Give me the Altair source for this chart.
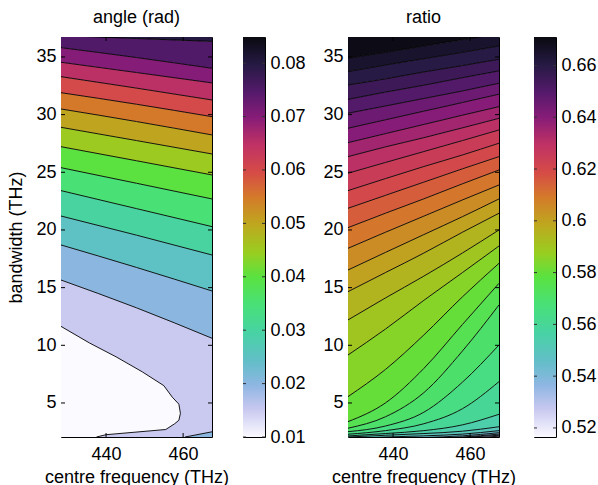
import altair as alt
import pandas as pd

FONT = "Liberation Sans"

# shared axes
FREQ_DOMAIN = [428.3, 467.5]
BW_DOMAIN = [2.05, 36.73]
FREQ_TICKS = [440, 460]
BW_TICKS = [5, 10, 15, 20, 25, 30, 35]

# colour map stops (0 = low end, 1 = high end)
CMAP_POS = [0.0, 0.07, 0.13, 0.19, 0.26, 0.33, 0.40, 0.46, 0.53, 0.60, 0.66, 0.73, 0.80, 0.86, 0.93, 1.0]
CMAP_COL = ["#fbfaff", "#c8c8f0", "#8eb6e2", "#62bec8", "#48d2a4", "#48e078", "#5ae240", "#98ce20",
            "#bea81e", "#d47a2a", "#d64c46", "#c03264", "#861c78", "#561a6c", "#261a44", "#0a0a10"]

# ---- angle (rad) ----
ANGLE_RANGE = [0.01, 0.0849]
ANGLE_TICKS = [0.01, 0.02, 0.03, 0.04, 0.05, 0.06, 0.07, 0.08]
ANGLE_X = [428.3, 447.9, 467.5]
ANGLE_LEVELS = [0.02, 0.025, 0.03, 0.035, 0.04, 0.045, 0.05, 0.055, 0.06, 0.065, 0.07, 0.075, 0.08]
ANGLE_LINES = [
    [15.66, 13.25, 10.61],
    [18.70, 16.75, 14.71],
    [21.21, 19.55, 17.83],
    [23.41, 21.85, 20.29],
    [25.40, 24.05, 22.69],
    [27.22, 26.00, 24.77],
    [28.90, 27.75, 26.59],
    [30.49, 29.40, 28.24],
    [31.90, 30.90, 29.82],
    [33.29, 32.30, 31.27],
    [34.54, 33.65, 32.75],
    [35.81, 34.95, 34.02],
    [36.85, 36.60, 36.35],
]
ANGLE_FLOOR_LEVEL = 0.015
# closed 0.015 contour (bandwidth -> frequency of its right edge)
ANGLE_LOW_BW = [2.05, 2.25, 2.7, 3.2, 3.5, 4.1, 4.9, 5.5, 6.5, 7.7, 9.0, 10.2, 11.64]
ANGLE_LOW_FREQ = [437.5, 440.0, 455.5, 457.8, 458.9, 459.3, 458.9, 457.2, 455.0, 449.4, 442.6, 435.7, 428.3]
ANGLE_LOW_LEVEL = 0.01
# 0.02 contour cutting the lower right corner
ANGLE_CORNER_FREQ = [460.5, 467.5]
ANGLE_CORNER_BW = [2.05, 2.5]
ANGLE_CORNER_LEVEL = 0.02

# ---- ratio ----
RATIO_RANGE = [0.5165, 0.671]
RATIO_TICKS = [0.52, 0.54, 0.56, 0.58, 0.6, 0.62, 0.64, 0.66]
RATIO_X = [428.3, 438.0, 448.0, 458.0, 467.5]
RATIO_LEVELS = [0.53, 0.535, 0.54, 0.545, 0.55, 0.555, 0.56, 0.565, 0.57, 0.575, 0.58, 0.585,
                0.59, 0.595, 0.6, 0.605, 0.61, 0.615, 0.62, 0.625, 0.63, 0.635, 0.64, 0.645,
                0.65, 0.655, 0.66, 0.665, 0.67]
RATIO_LINES = [
    [1.50, 1.60, 1.75, 1.90, 2.12],
    [1.60, 1.70, 1.85, 2.00, 2.20],
    [1.70, 1.80, 1.90, 2.05, 2.30],
    [1.80, 1.90, 2.00, 2.15, 2.42],
    [1.90, 2.05, 2.15, 2.30, 2.60],
    [2.05, 2.20, 2.35, 2.55, 2.94],
    [2.14, 2.35, 2.60, 3.10, 4.02],
    [2.29, 2.60, 3.20, 4.50, 6.85],
    [2.51, 3.00, 4.20, 6.80, 10.03],
    [2.81, 3.80, 5.90, 9.50, 13.50],
    [3.38, 5.00, 8.00, 11.80, 15.38],
    [5.55, 7.90, 10.90, 14.20, 17.11],
    [9.16, 11.40, 13.90, 16.30, 18.61],
    [12.20, 14.10, 16.00, 18.00, 20.00],
    [14.65, 16.30, 18.00, 19.80, 21.45],
    [16.53, 18.05, 19.60, 21.15, 22.69],
    [18.41, 19.80, 21.20, 22.60, 23.90],
    [20.20, 21.45, 22.70, 24.00, 25.20],
    [21.88, 23.00, 24.15, 25.30, 26.36],
    [23.41, 24.45, 25.50, 26.50, 27.52],
    [24.92, 25.85, 26.80, 27.75, 28.67],
    [26.36, 27.20, 28.00, 28.85, 29.68],
    [27.57, 28.35, 29.15, 29.95, 30.69],
    [28.82, 29.55, 30.30, 31.05, 31.77],
    [30.12, 30.75, 31.40, 32.05, 32.72],
    [31.33, 31.95, 32.55, 33.20, 33.79],
    [32.57, 33.10, 33.70, 34.25, 34.80],
    [33.73, 34.30, 34.85, 35.40, 35.95],
    [34.89, 35.40, 35.95, 36.50, 37.00],
]
RATIO_FLOOR_LEVEL = 0.525

PLOT_W, PLOT_H = 151, 400
BAR_W = 22


def color_scale(rng):
    lo, hi = rng
    return alt.Scale(domain=[lo + t * (hi - lo) for t in CMAP_POS], range=CMAP_COL, interpolate="rgb")


def x_enc(field="freq"):
    return alt.X(f"{field}:Q", scale=alt.Scale(domain=FREQ_DOMAIN, nice=False, zero=False),
                 axis=alt.Axis(values=FREQ_TICKS, labelPadding=8, titlePadding=5),
                 title="centre frequency (THz)")


def y_enc(show_title, field="bw"):
    return alt.Y(f"{field}:Q", scale=alt.Scale(domain=BW_DOMAIN, nice=False, zero=False),
                 axis=alt.Axis(values=BW_TICKS, labelPadding=5, titlePadding=10),
                 title="bandwidth (THz)" if show_title else "", stack=None)


def band_table(xs, levels, lines, floor_level):
    rows = []
    bounds = [[BW_DOMAIN[0]] * len(xs)] + lines + [[BW_DOMAIN[1]] * len(xs)]
    band_levels = [floor_level] + levels
    for i, lev in enumerate(band_levels):
        for j, x in enumerate(xs):
            rows.append({"band": i, "level": lev, "freq": x,
                         "bw": bounds[i][j], "bw_hi": bounds[i + 1][j]})
    return pd.DataFrame(rows)


def line_table(xs, levels, lines):
    rows = []
    for lev, ln in zip(levels, lines):
        for x, v in zip(xs, ln):
            rows.append({"level": str(lev), "freq": x, "bw": v})
    return pd.DataFrame(rows)


def tick_layers(show_title):
    xt = pd.DataFrame({"freq": FREQ_TICKS})
    yt = pd.DataFrame({"bw": BW_TICKS})
    style = dict(color="black", strokeWidth=1)
    return [
        alt.Chart(xt).mark_rule(**style).encode(x=x_enc(), y=alt.value(PLOT_H), y2=alt.value(PLOT_H - 4)),
        alt.Chart(xt).mark_rule(**style).encode(x=x_enc(), y=alt.value(0), y2=alt.value(4)),
        alt.Chart(yt).mark_rule(**style).encode(y=y_enc(show_title), x=alt.value(0), x2=alt.value(4)),
        alt.Chart(yt).mark_rule(**style).encode(y=y_enc(show_title), x=alt.value(PLOT_W), x2=alt.value(PLOT_W - 4)),
    ]


def contour_panel(title, xs, levels, lines, floor_level, rng, show_title, extra_fill, extra_lines):
    cs = color_scale(rng)
    bands = alt.Chart(band_table(xs, levels, lines, floor_level)).mark_area(
        clip=True, interpolate="monotone").encode(
        x=x_enc(), y=y_enc(show_title), y2="bw_hi:Q",
        color=alt.Color("level:Q", scale=cs, legend=None), detail="band:N")
    contour = alt.Chart(line_table(xs, levels, lines)).mark_line(
        clip=True, color="black", strokeWidth=0.9, interpolate="monotone").encode(
        x=x_enc(), y=y_enc(show_title), detail="level:N")
    fills = [f(cs, show_title) for f in extra_fill]
    outlines = [f(show_title) for f in extra_lines]
    layers = [bands] + fills + [contour] + outlines + tick_layers(show_title)
    return alt.layer(*layers).properties(
        width=PLOT_W, height=PLOT_H,
        title=alt.TitleParams(title, font=FONT, fontSize=18, fontWeight="normal", offset=10))


def angle_low_fill(cs, show_title):
    df = pd.DataFrame({"bw": ANGLE_LOW_BW, "freq": ANGLE_LOW_FREQ,
                       "freq0": [FREQ_DOMAIN[0]] * len(ANGLE_LOW_BW),
                       "level": [ANGLE_LOW_LEVEL] * len(ANGLE_LOW_BW)})
    return alt.Chart(df).mark_area(orient="horizontal", clip=True).encode(
        y=y_enc(show_title), x=x_enc(), x2="freq0:Q",
        color=alt.Color("level:Q", scale=cs, legend=None))


def angle_corner_fill(cs, show_title):
    df = pd.DataFrame({"freq": ANGLE_CORNER_FREQ, "bw": [BW_DOMAIN[0]] * 2,
                       "bw_hi": ANGLE_CORNER_BW, "level": [ANGLE_CORNER_LEVEL] * 2})
    return alt.Chart(df).mark_area(clip=True).encode(
        x=x_enc(), y=y_enc(show_title), y2="bw_hi:Q",
        color=alt.Color("level:Q", scale=cs, legend=None))


def angle_low_line(show_title):
    df = pd.DataFrame({"bw": ANGLE_LOW_BW, "freq": ANGLE_LOW_FREQ, "idx": list(range(len(ANGLE_LOW_BW)))})
    return alt.Chart(df).mark_line(clip=True, color="black", strokeWidth=0.9).encode(
        x=x_enc(), y=y_enc(show_title), order="idx:Q")


def angle_corner_line(show_title):
    df = pd.DataFrame({"freq": ANGLE_CORNER_FREQ, "bw": ANGLE_CORNER_BW})
    return alt.Chart(df).mark_line(clip=True, color="black", strokeWidth=0.9).encode(
        x=x_enc(), y=y_enc(show_title))


def colorbar(rng, ticks):
    grad = alt.LinearGradient(
        gradient="linear", x1=0, x2=0, y1=1, y2=0,
        stops=[alt.GradientStop(color=c, offset=t) for t, c in zip(CMAP_POS, CMAP_COL)])
    ysc = alt.Scale(domain=rng, nice=False, zero=False)
    axis = alt.Axis(orient="right", values=ticks, format="~g", labelPadding=5, title=None)
    bar = alt.Chart(pd.DataFrame({"lo": [rng[0]], "hi": [rng[1]]})).mark_rect(color=grad).encode(
        y=alt.Y("lo:Q", scale=ysc, axis=axis), y2="hi:Q",
        x=alt.value(0), x2=alt.value(BAR_W))
    tdf = pd.DataFrame({"lo": ticks})
    left = alt.Chart(tdf).mark_rule(color="#333333").encode(
        y=alt.Y("lo:Q", scale=ysc, axis=axis), x=alt.value(0), x2=alt.value(3))
    right = alt.Chart(tdf).mark_rule(color="#333333").encode(
        y=alt.Y("lo:Q", scale=ysc, axis=axis), x=alt.value(BAR_W - 3), x2=alt.value(BAR_W))
    return alt.layer(bar, left, right).properties(width=BAR_W, height=PLOT_H)


angle = contour_panel("angle (rad)", ANGLE_X, ANGLE_LEVELS, ANGLE_LINES, ANGLE_FLOOR_LEVEL,
                      ANGLE_RANGE, True, [angle_low_fill, angle_corner_fill],
                      [angle_low_line, angle_corner_line])
ratio = contour_panel("ratio", RATIO_X, RATIO_LEVELS, RATIO_LINES, RATIO_FLOOR_LEVEL,
                      RATIO_RANGE, False, [], [])

left = alt.hconcat(angle, colorbar(ANGLE_RANGE, ANGLE_TICKS), spacing=12).resolve_scale(
    color="independent", y="independent")
right = alt.hconcat(ratio, colorbar(RATIO_RANGE, RATIO_TICKS), spacing=16).resolve_scale(
    color="independent", y="independent")

chart = alt.hconcat(left, right, spacing=16).resolve_scale(
    color="independent", x="independent", y="independent"
).configure(
    padding={"left": 7, "top": 8, "right": 0, "bottom": 0}, background="white"
).configure_view(stroke="black", strokeWidth=1).configure_axis(
    labelFont=FONT, titleFont=FONT, labelFontSize=18, titleFontSize=18,
    titleFontWeight="normal", labelColor="black", titleColor="black",
    grid=False, domain=False, ticks=False)

chart.save("out.html", embed_options={"renderer": "svg", "actions": False})
